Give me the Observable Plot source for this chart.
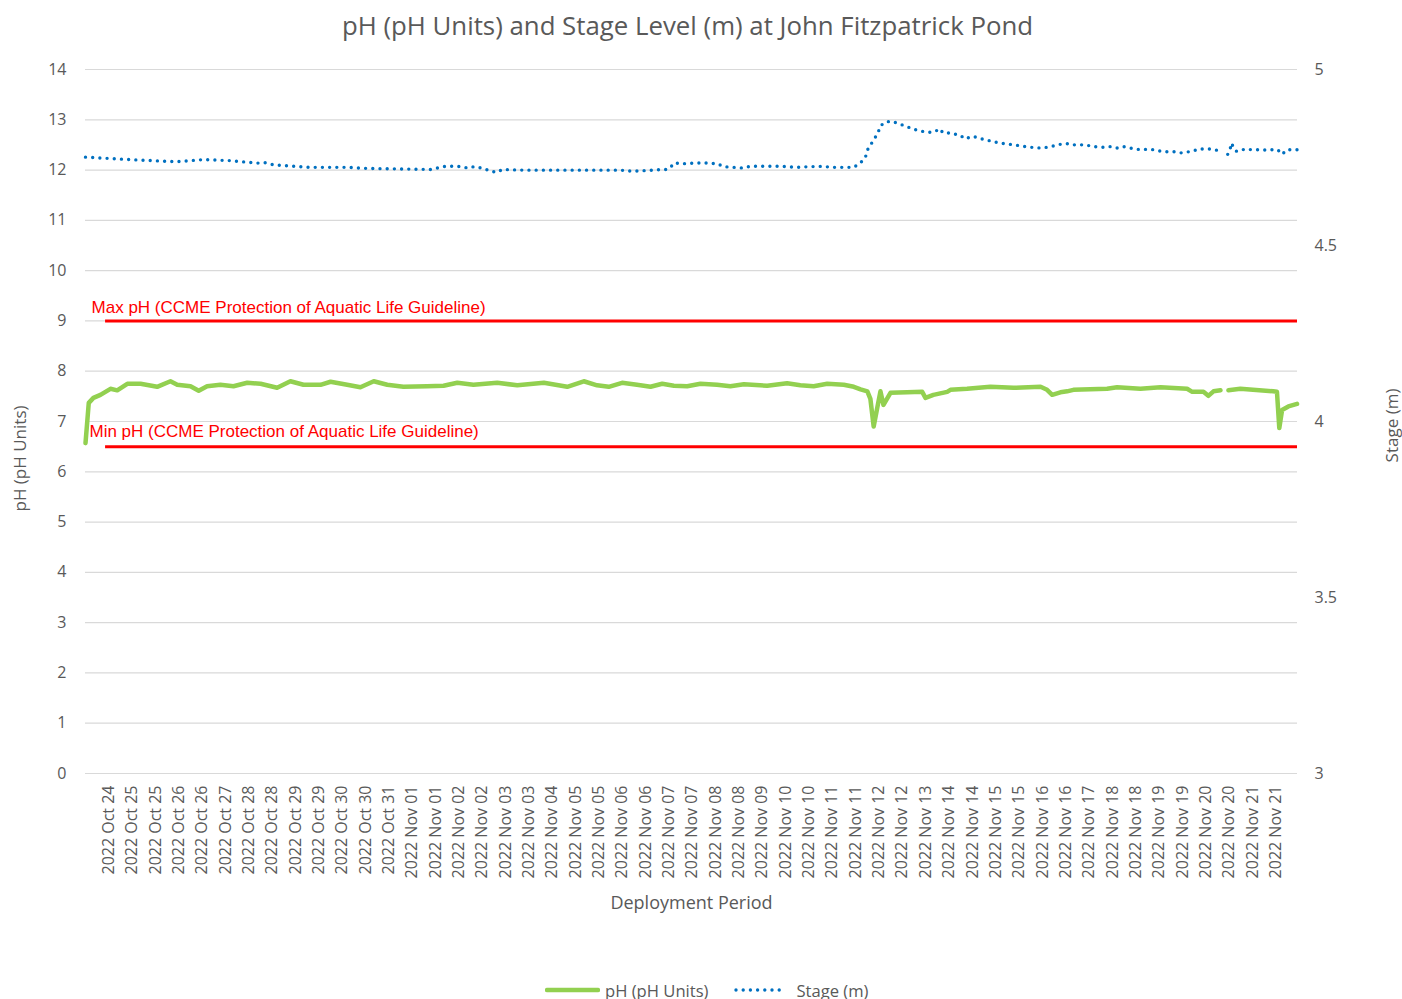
<!DOCTYPE html>
<html>
<head>
<meta charset="utf-8">
<script src="https://cdn.jsdelivr.net/npm/d3@7"></script>
<script src="https://cdn.jsdelivr.net/npm/@observablehq/plot@0.6"></script>
<style>
  html, body { margin: 0; padding: 0; background: #fff; overflow: hidden; }
  #wrap { position: relative; width: 1402px; height: 999px; }
  #title { height: 55px; text-align: center; font-family: "Open Sans", sans-serif; font-size: 25.8px; color: #595959; line-height: 50px; padding-right: 27px; }
  #legend { position: absolute; left: 545px; top: 978px; height: 24px; display: flex; align-items: center; font-family: "Open Sans", sans-serif; font-size: 16.6px; color: #595959; }
  #legend svg { display: block; }
</style>
</head>
<body>
<div id="wrap">
  <div id="title">pH (pH Units) and Stage Level (m) at John Fitzpatrick Pond</div>
  <div id="chart"></div>
  <div id="legend"></div>
</div>
<script>
// Category tick labels along the deployment period (position = label index 1..51)
const tickLabels = [
  "2022 Oct 24","2022 Oct 25","2022 Oct 25","2022 Oct 26","2022 Oct 26","2022 Oct 27","2022 Oct 28","2022 Oct 28",
  "2022 Oct 29","2022 Oct 29","2022 Oct 30","2022 Oct 30","2022 Oct 31","2022 Nov 01","2022 Nov 01","2022 Nov 02",
  "2022 Nov 02","2022 Nov 03","2022 Nov 03","2022 Nov 04","2022 Nov 05","2022 Nov 05","2022 Nov 06","2022 Nov 06",
  "2022 Nov 07","2022 Nov 07","2022 Nov 08","2022 Nov 08","2022 Nov 09","2022 Nov 10","2022 Nov 10","2022 Nov 11",
  "2022 Nov 11","2022 Nov 12","2022 Nov 12","2022 Nov 13","2022 Nov 14","2022 Nov 14","2022 Nov 15","2022 Nov 15",
  "2022 Nov 16","2022 Nov 16","2022 Nov 17","2022 Nov 18","2022 Nov 18","2022 Nov 19","2022 Nov 19","2022 Nov 20",
  "2022 Nov 20","2022 Nov 21","2022 Nov 21"
];
const xEnd = 51.93;               // end of the deployment axis (label units)

// pH series: [position, pH]
const phPos = [0.00,0.14,0.34,0.64,1.07,1.36,1.79,2.36,3.07,3.64,3.93,4.50,4.85,5.21,5.78,6.34,6.93,7.50,8.21,8.78,
  9.34,10.07,10.50,11.21,11.78,12.35,12.93,13.62,14.64,15.34,15.93,16.62,17.64,18.50,19.64,20.64,21.35,21.92,22.42,22.99,
  23.63,24.21,24.71,25.21,25.78,26.35,27.06,27.63,28.21,29.21,30.06,30.63,31.20,31.78,32.49,32.92,33.21,33.50,33.63,33.77,
  34.06,34.19,34.49,35.20,35.85,35.99,36.33,36.92,37.06,37.77,38.77,39.76,40.92,41.20,41.42,41.77,42.06,42.33,43.77,44.20,
  45.20,46.06,47.20,47.42,47.90,48.11,48.33,48.63,48.80,48.97,49.48,50.89,51.05,51.15,51.27,51.54,51.91];
const phVal = [6.57,7.37,7.47,7.53,7.65,7.62,7.75,7.75,7.69,7.80,7.73,7.70,7.61,7.70,7.73,7.70,7.77,7.75,7.67,7.80,
  7.73,7.73,7.79,7.73,7.68,7.80,7.73,7.69,7.70,7.71,7.77,7.73,7.77,7.72,7.77,7.69,7.80,7.72,7.69,7.77,
  7.73,7.69,7.75,7.71,7.70,7.75,7.73,7.70,7.74,7.71,7.76,7.72,7.70,7.75,7.73,7.69,7.64,7.60,7.45,6.90,
  7.60,7.33,7.57,7.58,7.59,7.47,7.53,7.59,7.63,7.65,7.69,7.67,7.69,7.63,7.53,7.58,7.60,7.63,7.65,7.68,
  7.65,7.68,7.65,7.59,7.59,7.51,7.60,7.62,NaN,7.62,7.65,7.60,7.59,6.87,7.23,7.30,7.35];

// Stage series: [position, stage (m)]
const stagePos = [0.00,1.36,2.22,3.50,3.90,5.07,6.21,7.36,7.71,8.07,9.64,11.21,12.07,14.78,15.42,15.93,16.42,16.64,17.06,17.35,
  17.64,17.85,18.77,22.92,23.42,24.35,24.64,24.92,25.06,25.24,25.49,26.49,26.78,27.06,27.35,28.18,28.49,29.78,30.42,31.06,
  31.63,31.92,32.92,33.21,33.42,33.49,33.77,33.95,34.06,34.28,34.56,34.85,35.18,35.46,35.78,35.99,36.25,36.46,36.56,36.77,
  37.06,37.28,37.49,37.67,38.03,38.56,38.85,39.16,39.77,40.16,40.77,41.10,41.42,41.87,42.14,42.30,42.87,43.13,43.63,43.92,
  44.20,44.46,44.74,45.06,45.67,45.99,46.27,46.60,46.92,47.24,47.49,47.66,47.94,48.27,48.51,48.72,48.94,49.03,49.10,49.20,
  49.31,49.46,49.66,49.98,50.27,50.60,50.87,51.08,51.27,51.48,51.80,51.93];
const stageVal = [4.751,4.746,4.743,4.739,4.738,4.744,4.741,4.734,4.735,4.729,4.722,4.722,4.719,4.716,4.725,4.725,4.720,4.724,4.719,4.711,
  4.708,4.716,4.714,4.714,4.711,4.714,4.716,4.716,4.722,4.735,4.732,4.735,4.733,4.733,4.724,4.720,4.725,4.725,4.722,4.724,
  4.725,4.722,4.722,4.735,4.751,4.770,4.800,4.819,4.840,4.851,4.853,4.846,4.838,4.831,4.825,4.823,4.821,4.826,4.832,4.819,
  4.820,4.816,4.813,4.803,4.810,4.800,4.796,4.791,4.786,4.782,4.777,4.778,4.782,4.789,4.789,4.786,4.786,4.781,4.779,4.781,
  4.777,4.781,4.777,4.773,4.773,4.769,4.766,4.767,4.763,4.766,4.769,4.774,4.774,4.774,4.770,NaN,4.759,4.770,4.791,4.777,
  4.768,4.768,4.774,4.772,4.772,4.771,4.772,4.772,4.759,4.772,4.772,4.772];

// Guidelines
const maxPH = 9, minPH = 6.5;
const guideStart = 0.86;
const maxLabel = "Max pH (CCME Protection of Aquatic Life Guideline)";
const minLabel = "Min pH (CCME Protection of Aquatic Life Guideline)";

// Axes
const phTicks = d3.range(0, 15);
const stageTicks = [3, 3.5, 4, 4.5, 5];
const stageMin = 3, stageMax = 5, phMax = 14;
const toPh = s => (s - stageMin) / (stageMax - stageMin) * phMax;

const phData = phPos.map((x, i) => ({x, y: phVal[i]}));
const stageData = stagePos.map((x, i) => ({x, y: toPh(stageVal[i])}));

const green = "#92D050", blue = "#0070C0", red = "#FF0000", gray = "#595959";

const chart = Plot.plot({
  width: 1402,
  height: 915,
  marginLeft: 85,
  marginRight: 105,
  marginTop: 14,
  marginBottom: 197,
  x: {domain: [0, xEnd]},
  y: {domain: [0, phMax]},
  style: {fontFamily: "'Open Sans', sans-serif", fontSize: "16px", color: gray, background: "#fff"},
  marks: [
    Plot.ruleY(phTicks, {stroke: "#d9d9d9", strokeWidth: 1.2, strokeOpacity: 1}),
    Plot.axisY({ticks: phTicks, tickSize: 0, tickPadding: 19, label: null, fontSize: 16}),
    Plot.axisY({anchor: "right", ticks: stageTicks.map(toPh), tickFormat: d => String(+(d / phMax * (stageMax - stageMin) + stageMin).toFixed(1)), tickSize: 0, tickPadding: 17, label: null, fontSize: 16}),
    Plot.axisX({ticks: d3.range(1, tickLabels.length + 1), tickFormat: d => tickLabels[d - 1], tickRotate: -90, tickSize: 0, tickPadding: 12, label: null, fontSize: 16}),
    Plot.ruleY([maxPH], {x1: guideStart, x2: xEnd, stroke: red, strokeWidth: 3}),
    Plot.ruleY([minPH], {x1: guideStart, x2: xEnd, stroke: red, strokeWidth: 3}),
    Plot.text([maxLabel], {x: 0.26, y: maxPH, dy: -13, text: d => d, textAnchor: "start", fill: red, fontSize: 17, fontFamily: "'Liberation Sans', Arial, sans-serif"}),
    Plot.text([minLabel], {x: 0.17, y: minPH, dy: -15, text: d => d, textAnchor: "start", fill: red, fontSize: 17, fontFamily: "'Liberation Sans', Arial, sans-serif"}),
    Plot.line(stageData, {x: "x", y: "y", stroke: blue, strokeWidth: 3.4, strokeDasharray: "0 7.2", strokeLinecap: "round"}),
    Plot.line(phData, {x: "x", y: "y", stroke: green, strokeWidth: 4.5, strokeLinecap: "round", strokeLinejoin: "round"}),
    Plot.text(["pH (pH Units)"], {frameAnchor: "left", textAnchor: "middle", dx: -65, dy: 37, rotate: -90, fill: gray, fontSize: 17}),
    Plot.text(["Stage (m)"], {frameAnchor: "right", textAnchor: "middle", dx: 95, dy: 4, rotate: -90, fill: gray, fontSize: 17}),
    Plot.text(["Deployment Period"], {frameAnchor: "bottom", dy: 135, fill: gray, fontSize: 18})
  ]
});
document.getElementById("chart").appendChild(chart);

// Legend
const legend = document.getElementById("legend");
const seriesLegend = [
  {label: "pH (pH Units)", color: green, dash: null, w: 55, width: 4.5, gapAfter: 5, spacing: 26},
  {label: "Stage (m)", color: blue, dash: "0 7.2", w: 52, width: 3.4, gapAfter: 10, spacing: 0}
];
seriesLegend.forEach(s => {
  const item = document.createElement("div");
  item.style.display = "flex";
  item.style.alignItems = "center";
  item.style.marginRight = s.spacing + "px";
  const sw = d3.create("svg").attr("width", s.w).attr("height", 10);
  sw.append("line").attr("x1", 2).attr("x2", s.w - 2).attr("y1", 5).attr("y2", 5)
    .attr("stroke", s.color).attr("stroke-width", s.width).attr("stroke-linecap", "round")
    .attr("stroke-dasharray", s.dash);
  item.appendChild(sw.node());
  const t = document.createElement("span");
  t.textContent = s.label;
  t.style.marginLeft = s.gapAfter + "px";
  item.appendChild(t);
  legend.appendChild(item);
});
</script>
</body>
</html>
